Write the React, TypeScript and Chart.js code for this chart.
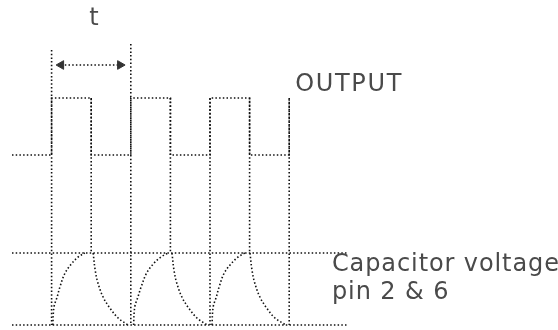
import React, { useEffect, useRef } from "react";
import { Chart, registerables } from "chart.js";

Chart.register(...registerables);

// Output square wave (time in half-periods, level in arbitrary units)
const squareX = [0, 1, 1, 2, 2, 3, 3, 4, 4, 5, 5, 6, 6, 7, 7];
const squareY = [17.5, 17.5, 23.2, 23.2, 17.5, 17.5, 23.2, 23.2, 17.5, 17.5, 23.2, 23.2, 17.5, 17.5, 23.2];

// Vertical guide lines at each edge
const guideX = [1, 2, 3, 4, 5, 6, 7];
const guideTop = [28.0, 23.2, 28.6, 23.2, 23.2, 23.2, 23.2];
const guideBottom = [0.5, 7.7, 0.5, 7.7, 0.5, 7.7, 0.5];

// Capacitor rails
const railX = [0, 8.5];
const railTopY = [7.7, 7.7];
const railBottomY = [0.5, 0.5];

// Capacitor charging curves
const chargeY = [0.5, 2.3, 3.3, 4.3, 5.7, 6.7, 7.3, 7.7];
const charge1X = [1.03, 1.06, 1.14, 1.21, 1.34, 1.52, 1.67, 1.84];
const charge2X = [3.07, 3.1, 3.18, 3.26, 3.4, 3.59, 3.76, 3.94];
const charge3X = [5.05, 5.08, 5.16, 5.23, 5.36, 5.55, 5.71, 5.88];

// Capacitor discharging curves
const dischargeY = [7.7, 6.0, 4.7, 3.3, 2.2, 1.2, 0.5];
const discharge1X = [2.05, 2.1, 2.17, 2.3, 2.47, 2.68, 2.93];
const discharge2X = [4.04, 4.09, 4.16, 4.29, 4.46, 4.67, 4.93];
const discharge3X = [6.01, 6.06, 6.13, 6.26, 6.43, 6.64, 6.92];

// Period arrow
const arrowX = [1.24, 2.73];
const arrowY = [26.5, 26.5];

// Text labels
const labelTexts = ["t", "OUTPUT", "Capacitor voltage", "pin 2 & 6"];
const labelX = [2.07, 7.15, 8.08, 8.08];
const labelY = [31.1, 24.5, 6.5, 3.7];
const labelAlign: CanvasTextAlign[] = ["center", "left", "left", "left"];
const labelSpacing = ["0px", "1.7px", "0.9px", "0.9px"];

const INK = "#111";
const DASH = [1.5, 2.2];

const pts = (xs: number[], ys: number[]) => xs.map((x, i) => ({ x, y: ys[i] }));

const lineDs = (data: { x: number; y: number }[]) => ({
  data,
  showLine: true,
  borderColor: INK,
  borderWidth: 1.6,
  borderDash: DASH,
  pointRadius: 0,
  fill: false,
  tension: 0,
});

const labelPlugin = {
  id: "labels",
  afterDatasetsDraw(chart: any) {
    const { ctx, scales } = chart;
    ctx.save();
    ctx.fillStyle = "#4a4a4a";
    ctx.font = "24px 'DejaVu Sans'";
    ctx.textBaseline = "middle";
    labelTexts.forEach((t, i) => {
      ctx.textAlign = labelAlign[i];
      (ctx as any).letterSpacing = labelSpacing[i];
      ctx.fillText(t, scales.x.getPixelForValue(labelX[i]), scales.y.getPixelForValue(labelY[i]));
    });
    ctx.restore();
  },
};

export default function App() {
  const ref = useRef<HTMLCanvasElement>(null);
  useEffect(() => {
    if (!ref.current) return;
    const datasets: any[] = [];
    datasets.push(lineDs(pts(squareX, squareY)));
    guideX.forEach((x, i) => {
      datasets.push(lineDs([{ x, y: guideTop[i] }, { x, y: guideBottom[i] }]));
    });
    datasets.push(lineDs(pts(railX, railTopY)));
    datasets.push(lineDs(pts(railX, railBottomY)));
    [charge1X, charge2X, charge3X].forEach((xs) =>
      datasets.push({ ...lineDs(pts(xs, chargeY)), tension: 0.35 })
    );
    [discharge1X, discharge2X, discharge3X].forEach((xs) =>
      datasets.push({ ...lineDs(pts(xs, dischargeY)), tension: 0.35 })
    );
    datasets.push({
      ...lineDs(pts(arrowX, arrowY)),
      pointRadius: 5,
      pointStyle: "triangle",
      rotation: [-90, 90],
      pointBackgroundColor: "#333",
      pointBorderColor: "#333",
      pointBorderWidth: 1,
    });

    const chart = new Chart(ref.current, {
      type: "scatter",
      data: { datasets },
      options: {
        animation: false,
        responsive: false,
        devicePixelRatio: 1,
        layout: { padding: 0, autoPadding: false },
        plugins: { legend: { display: false }, tooltip: { enabled: false } },
        scales: {
          x: { type: "linear", min: -0.303, max: 13.788, display: false },
          y: { type: "linear", min: 0, max: 33, display: false },
        },
      },
      plugins: [labelPlugin],
    });
    return () => chart.destroy();
  }, []);
  return (
    <div style={{ position: "fixed", left: 0, top: 0, width: 558, height: 330, background: "#fff" }}>
      <canvas ref={ref} width={558} height={330} />
    </div>
  );
}
